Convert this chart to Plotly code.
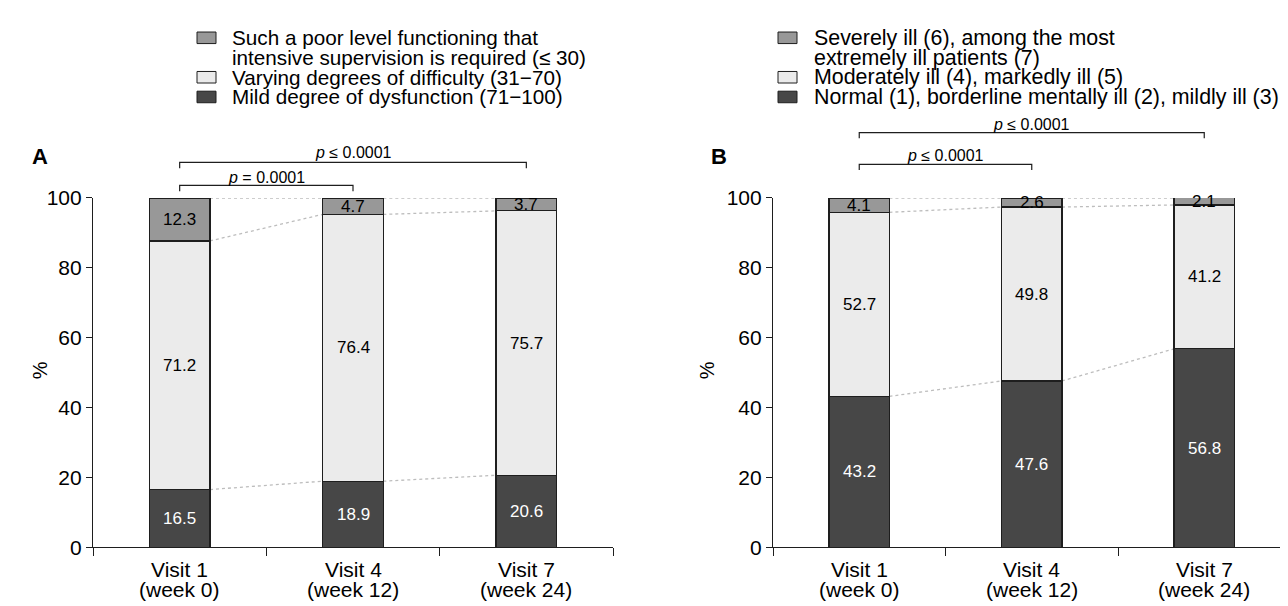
import plotly.graph_objects as go

visits = ["Visit 1", "Visit 4", "Visit 7"]
weeks = ["(week 0)", "(week 12)", "(week 24)"]
categories = [f"{v}<br>{w}" for v, w in zip(visits, weeks)]

# Panel A (GAF)
a_dark = [16.5, 18.9, 20.6]
a_light = [71.2, 76.4, 75.7]
a_mid = [12.3, 4.7, 3.7]
a_legend = [["Such a poor level functioning that", "intensive supervision is required (≤ 30)"],
            ["Varying degrees of difficulty (31\u221270)"],
            ["Mild degree of dysfunction (71\u2212100)"]]
a_pvals = ["<i>p</i> = 0.0001", "<i>p</i> ≤ 0.0001"]

# Panel B (CGI)
b_dark = [43.2, 47.6, 56.8]
b_light = [52.7, 49.8, 41.2]
b_mid = [4.1, 2.6, 2.1]
b_legend = [["Severely ill (6), among the most", "extremely ill patients (7)"],
            ["Moderately ill (4), markedly ill (5)"],
            ["Normal (1), borderline mentally ill (2), mildly ill (3)"]]
b_pvals = ["<i>p</i> ≤ 0.0001", "<i>p</i> ≤ 0.0001"]

y_ticks = [0, 20, 40, 60, 80, 100]

C_DARK = "#474747"
C_LIGHT = "#ebebeb"
C_MID = "#989898"
C_LINE = "#1e1e1e"
FONT = "Liberation Sans, Arial, sans-serif"
W, H = 1288, 606
OFF = 8  # page body margin
BW = 0.35
Y0, Y100 = 556, 193


def py(sy):
    return (H - (sy - OFF)) / H


def px(sx):
    return (sx - OFF) / W


fig = go.Figure()
shapes = []
annos = []


def panel(xref, yref, dark, light, mid, pvals, brackets, leg_box_x, leg_text_x, legend_labels, label, label_x, pct_x,
          leg_size):
    for vals, col in [(dark, C_DARK), (light, C_LIGHT), (mid, C_MID)]:
        fig.add_trace(go.Bar(x=categories, y=vals, width=BW,
                             marker=dict(color=col, line=dict(color=C_LINE, width=1.2)),
                             xaxis=xref, yaxis=yref, showlegend=False, hoverinfo="skip"))
    # category labels (two lines, tight spacing)
    for i, (v, w) in enumerate(zip(visits, weeks)):
        for txt, dy in [(v, 23), (w, 44)]:
            annos.append(dict(x=i, y=py(Y0 + dy), xref=xref, yref="paper", text=txt, showarrow=False,
                              xanchor="center", yanchor="middle",
                              font=dict(family=FONT, size=21, color="black")))
    # segment value labels
    for i in range(3):
        c1 = dark[i]
        c2 = dark[i] + light[i]
        c3 = c2 + mid[i]
        for v, lo, hi, col in [(dark[i], 0, c1, "white"), (light[i], c1, c2, "black"), (mid[i], c2, c3, "black")]:
            annos.append(dict(x=i, y=(lo + hi) / 2, xref=xref, yref=yref, text=f"{v:.1f}", showarrow=False,
                              xanchor="center", yanchor="middle",
                              font=dict(family=FONT, size=17, color=col)))
    # dotted connectors between bars
    cums = [[dark[i], dark[i] + light[i], min(100, dark[i] + light[i] + mid[i])] for i in range(3)]
    for k in range(3):
        for i in range(2):
            shapes.append(dict(type="line", xref=xref, yref=yref, x0=i + BW / 2, x1=i + 1 - BW / 2,
                               y0=cums[i][k], y1=cums[i + 1][k],
                               line=dict(color="#bdbdbd", width=1.3, dash="3px,3px"), layer="below"))
    # significance brackets
    for (j, yline, ytext), ptxt in zip(brackets, pvals):
        shapes.append(dict(type="path", xref=xref, yref="paper",
                           path=f"M 0 {py(yline + 6)} L 0 {py(yline)} L {j} {py(yline)} L {j} {py(yline + 6)}",
                           line=dict(color=C_LINE, width=1.2)))
        annos.append(dict(x=j / 2, y=py(ytext), xref=xref, yref="paper", text=ptxt, showarrow=False,
                          xanchor="center", yanchor="middle",
                          font=dict(family=FONT, size=16, color="black")))
    # legend
    rows = [[26.5, 47], [67.5], [88]]
    cols = [C_MID, C_LIGHT, C_DARK]
    for r, col, lines in zip(rows, cols, legend_labels):
        shapes.append(dict(type="rect", xref="paper", yref="paper", x0=px(leg_box_x), x1=px(leg_box_x + 19),
                           y0=py(r[0] + 6), y1=py(r[0] - 6), fillcolor=col,
                           line=dict(color=C_LINE, width=1)))
        for yy, txt in zip(r, lines):
            annos.append(dict(x=px(leg_text_x), y=py(yy), xref="paper", yref="paper", text=txt, showarrow=False,
                              xanchor="left", yanchor="middle", align="left",
                              font=dict(family=FONT, size=leg_size, color="black")))
    annos.append(dict(x=px(label_x), y=py(150), xref="paper", yref="paper", text=f"<b>{label}</b>",
                      showarrow=False, xanchor="center", yanchor="middle",
                      font=dict(family=FONT, size=22, color="black")))
    annos.append(dict(x=px(pct_x), y=py(372), xref="paper", yref="paper", text="%", showarrow=False,
                      textangle=-90, xanchor="center", yanchor="middle",
                      font=dict(family=FONT, size=20, color="black")))


panel("x", "y", a_dark, a_light, a_mid, a_pvals, [(1, 180, 172), (2, 156, 146)], 197, 230, a_legend, "A", 40, 40,
      20.7)
panel("x2", "y2", b_dark, b_light, b_mid, b_pvals, [(1, 158, 149), (2, 125, 117)], 778, 812, b_legend, "B", 719, 707,
      21.4)

ydom = [py(Y0), py(Y100)]
axis_x = dict(type="category", tickson="boundaries", ticks="outside", ticklen=8, tickwidth=1.2, tickcolor=C_LINE,
              showline=True, linecolor=C_LINE, linewidth=1.2, showgrid=False, zeroline=False,
              showticklabels=False, fixedrange=True)
axis_y = dict(range=[0, 100], tickvals=y_ticks, ticks="outside", ticklen=6, tickwidth=1.2,
              tickcolor=C_LINE, showline=True, linecolor=C_LINE, linewidth=1.2, showgrid=False,
              zeroline=False, tickfont=dict(family=FONT, size=21, color="black"), fixedrange=True)

a_left, a_right = 93, 613
b_left = 773
b_right_screen = W + OFF
b_end = -0.5 + (b_right_screen - b_left) / 172.5

fig.update_layout(
    width=W, height=H, margin=dict(l=0, r=0, t=0, b=0), paper_bgcolor="white", plot_bgcolor="white",
    barmode="stack", shapes=shapes, annotations=annos,
    xaxis=dict(domain=[px(a_left), px(a_right)], anchor="y", range=[-0.5, 2.5], **axis_x),
    yaxis=dict(domain=ydom, anchor="x", **axis_y),
    xaxis2=dict(domain=[px(b_left), 1.0], anchor="y2", range=[-0.5, b_end], **axis_x),
    yaxis2=dict(domain=ydom, anchor="x2", **axis_y),
)

fig.write_html("out.html")
